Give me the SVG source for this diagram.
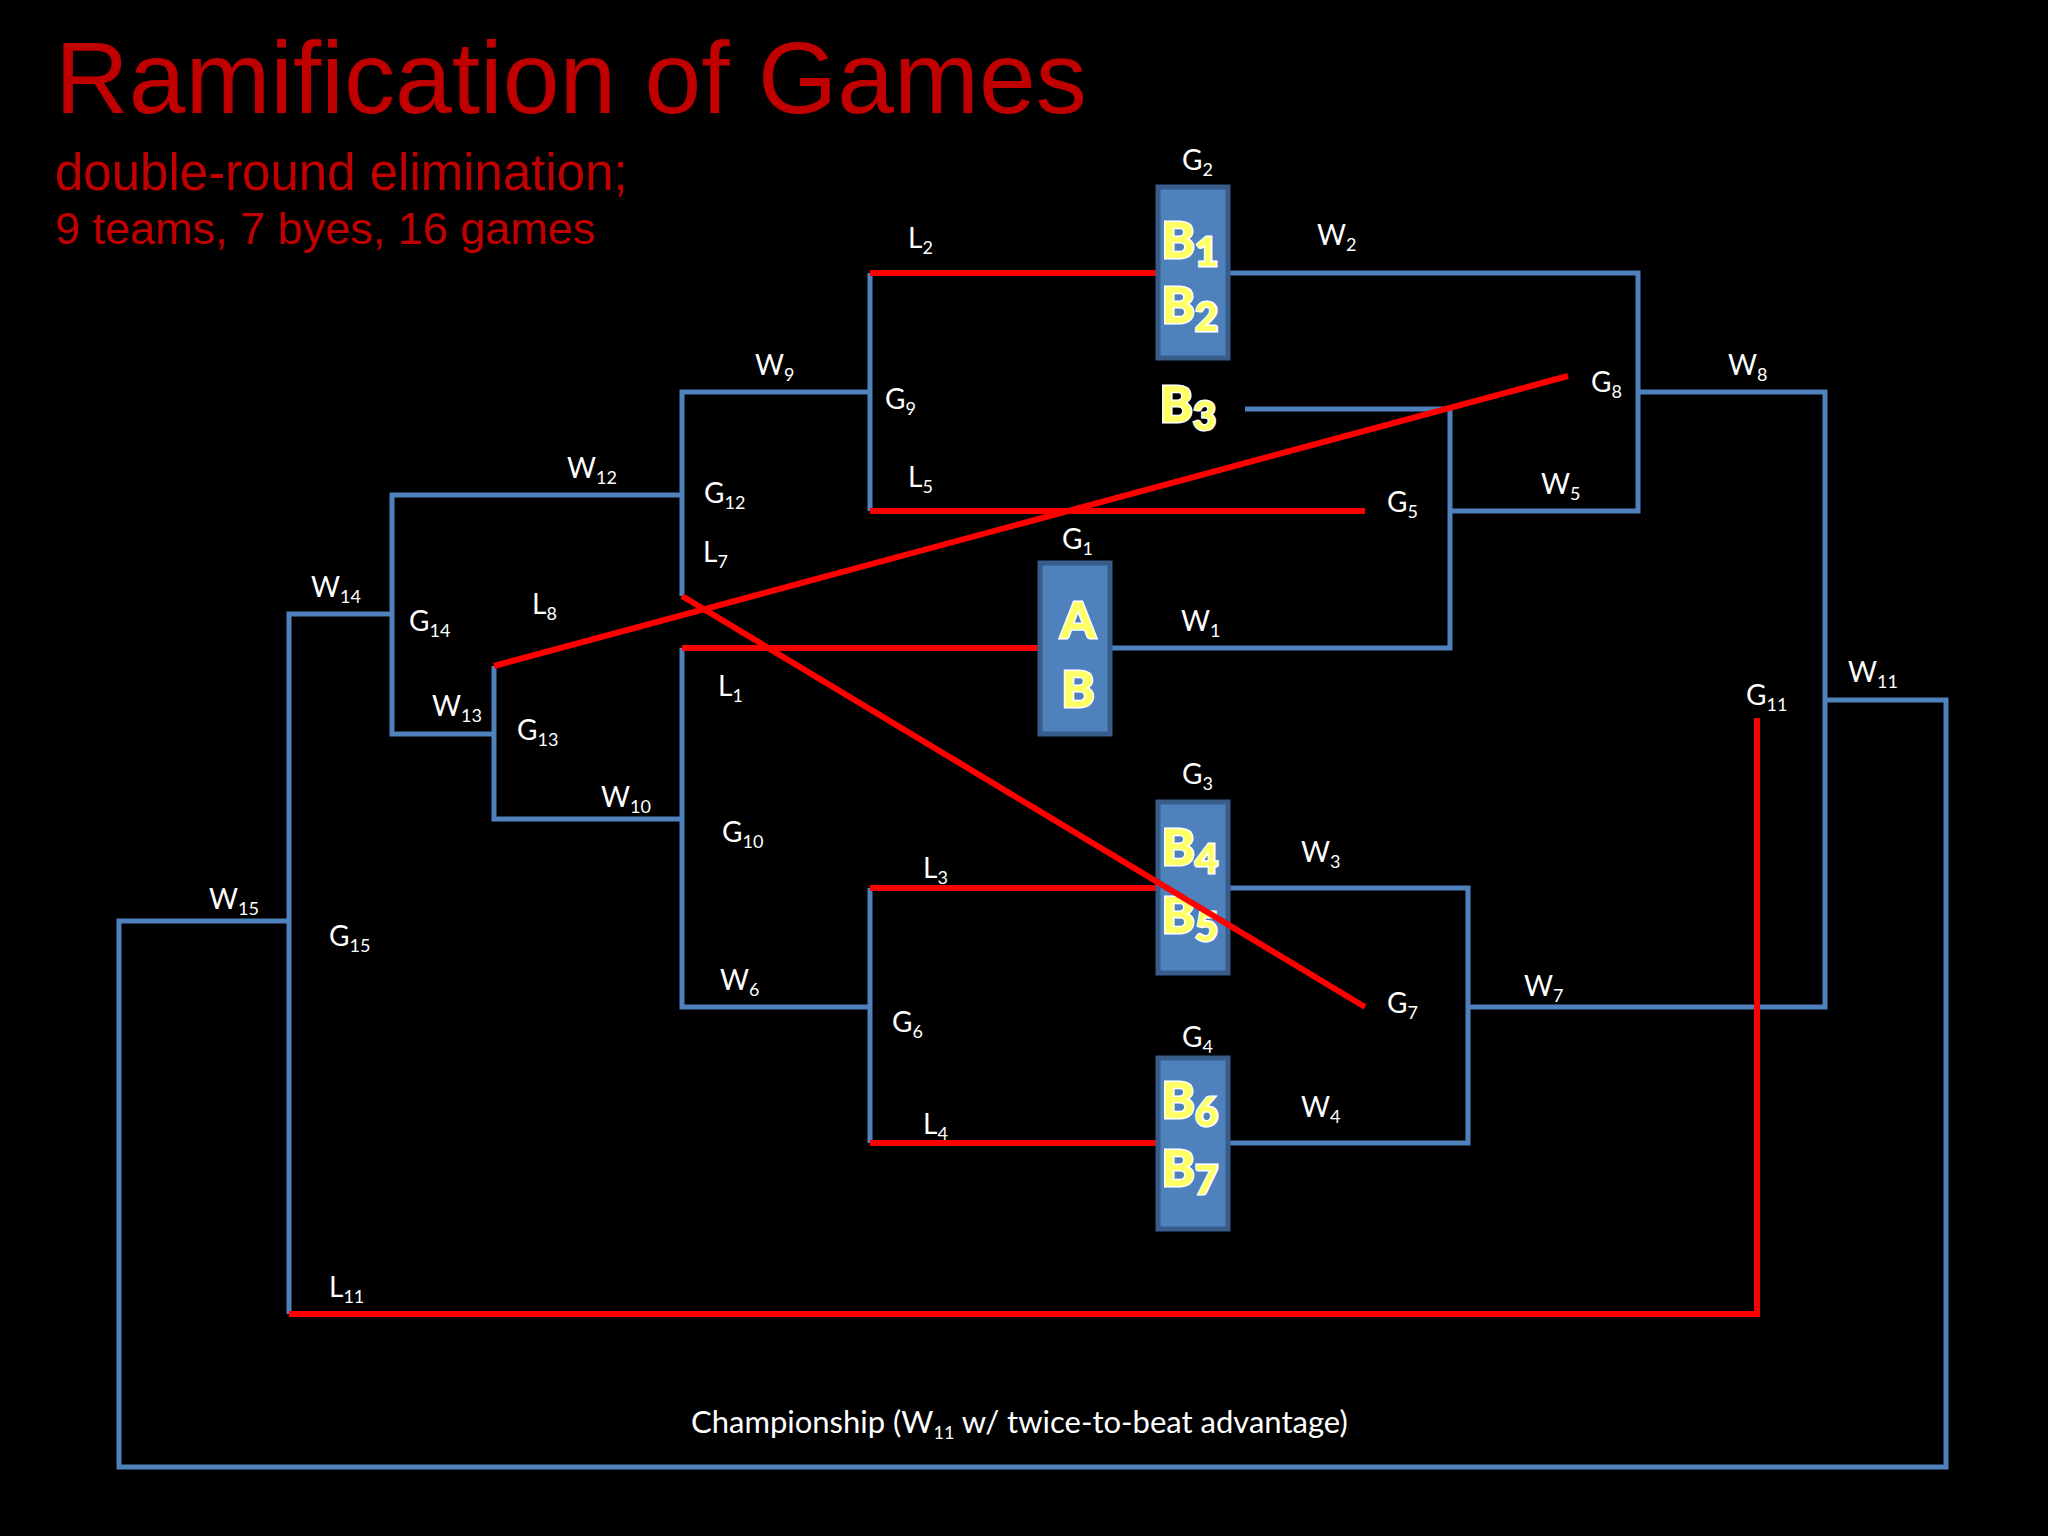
<svg xmlns="http://www.w3.org/2000/svg" width="2048" height="1536" viewBox="0 0 2048 1536">
<style>
.b{stroke:#4f81bd;stroke-width:5;fill:none}
.r{stroke:#ff0000;stroke-width:6;fill:none}
.t{font-family:"Lato","Open Sans",sans-serif;font-size:28px;fill:#fff}
.s{font-size:18px}
.box{fill:#4f81bd;stroke:#385d8a;stroke-width:5}
.k{font-family:"Lato","DejaVu Sans",sans-serif;font-weight:900;font-size:50px;fill:#ffff66;stroke:#fff;stroke-width:3;paint-order:stroke;text-anchor:middle}
.k tspan{font-size:40px}
.h{font-family:"Liberation Sans",Arial,sans-serif;fill:#c00000}
</style>
<rect width="2048" height="1536" fill="#000"/>
<text class="h" x="55" y="113" font-size="102">Ramification of Games</text>
<text class="h" x="55" y="190" font-size="51">double-round elimination;</text>
<text class="h" x="55" y="244" font-size="45">9 teams, 7 byes, 16 games</text>
<g id="connectors">
<polyline class="b" points="1228,273 1638,273 1638,511 1450,511"/>
<polyline class="b" points="1638,392 1825,392 1825,1007 1468,1007"/>
<polyline class="b" points="1825,700 1946,700 1946,1467 119,1467 119,921 289,921"/>
<polyline class="b" points="289,1314 289,614 392,614"/>
<polyline class="b" points="682,495 392,495 392,734 494,734"/>
<polyline class="b" points="682,819 494,819 494,666"/>
<polyline class="b" points="682,596 682,392 870,392"/>
<line class="b" x1="870" y1="273" x2="870" y2="511"/>
<polyline class="b" points="1245,409 1450,409 1450,648 1110,648"/>
<polyline class="b" points="682,648 682,1007 870,1007"/>
<line class="b" x1="870" y1="888" x2="870" y2="1143"/>
<polyline class="b" points="1228,888 1468,888 1468,1143 1228,1143"/>
<line class="r" x1="870" y1="273" x2="1158" y2="273"/>
<line class="r" x1="870" y1="511" x2="1365" y2="511"/>
<line class="r" x1="682" y1="648" x2="1040" y2="648"/>
<line class="r" x1="870" y1="888" x2="1158" y2="888"/>
<line class="r" x1="870" y1="1143" x2="1158" y2="1143"/>
<line class="r" x1="494" y1="666" x2="1568" y2="376"/>
<polyline class="r" points="1757,718 1757,1314 289,1314"/>
</g>
<g id="G2"><rect class="box" x="1158" y="187" width="70" height="171"/><text class="k" x="1190" y="258">B<tspan dy="8">1</tspan></text><text class="k" x="1190" y="323">B<tspan dy="8">2</tspan></text></g>
<g id="B3"><text class="k" x="1188" y="422">B<tspan dy="8">3</tspan></text></g>
<g id="G1"><rect class="box" x="1040" y="563" width="70" height="171"/><text class="k" x="1078" y="638">A</text><text class="k" x="1078" y="707">B</text></g>
<g id="G3"><rect class="box" x="1158" y="802" width="70" height="171"/><text class="k" x="1190" y="865">B<tspan dy="8">4</tspan></text><text class="k" x="1190" y="933">B<tspan dy="8">5</tspan></text></g>
<g id="G4"><rect class="box" x="1158" y="1058" width="70" height="171"/><text class="k" x="1190" y="1118">B<tspan dy="8">6</tspan></text><text class="k" x="1190" y="1186">B<tspan dy="8">7</tspan></text></g>
<g id="connectors-over">
<line class="r" x1="682" y1="596" x2="1365" y2="1007"/>
</g>
<g id="labels" class="t">
<text x="1182" y="170">G<tspan class="s" dy="6">2</tspan></text>
<text x="908" y="248">L<tspan class="s" dy="6">2</tspan></text>
<text x="1317" y="245">W<tspan class="s" dy="6">2</tspan></text>
<text x="755" y="375">W<tspan class="s" dy="6">9</tspan></text>
<text x="885" y="409">G<tspan class="s" dy="6">9</tspan></text>
<text x="1591" y="392">G<tspan class="s" dy="6">8</tspan></text>
<text x="1728" y="375">W<tspan class="s" dy="6">8</tspan></text>
<text x="567" y="478">W<tspan class="s" dy="6">12</tspan></text>
<text x="704" y="503">G<tspan class="s" dy="6">12</tspan></text>
<text x="908" y="487">L<tspan class="s" dy="6">5</tspan></text>
<text x="1541" y="494">W<tspan class="s" dy="6">5</tspan></text>
<text x="1387" y="512">G<tspan class="s" dy="6">5</tspan></text>
<text x="1062" y="549">G<tspan class="s" dy="6">1</tspan></text>
<text x="703" y="562">L<tspan class="s" dy="6">7</tspan></text>
<text x="311" y="597">W<tspan class="s" dy="6">14</tspan></text>
<text x="409" y="631">G<tspan class="s" dy="6">14</tspan></text>
<text x="532" y="614">L<tspan class="s" dy="6">8</tspan></text>
<text x="1181" y="631">W<tspan class="s" dy="6">1</tspan></text>
<text x="1848" y="682">W<tspan class="s" dy="6">11</tspan></text>
<text x="1746" y="705">G<tspan class="s" dy="6">11</tspan></text>
<text x="718" y="696">L<tspan class="s" dy="6">1</tspan></text>
<text x="432" y="716">W<tspan class="s" dy="6">13</tspan></text>
<text x="517" y="740">G<tspan class="s" dy="6">13</tspan></text>
<text x="1182" y="784">G<tspan class="s" dy="6">3</tspan></text>
<text x="601" y="807">W<tspan class="s" dy="6">10</tspan></text>
<text x="722" y="842">G<tspan class="s" dy="6">10</tspan></text>
<text x="1301" y="862">W<tspan class="s" dy="6">3</tspan></text>
<text x="923" y="878">L<tspan class="s" dy="6">3</tspan></text>
<text x="209" y="909">W<tspan class="s" dy="6">15</tspan></text>
<text x="329" y="946">G<tspan class="s" dy="6">15</tspan></text>
<text x="720" y="990">W<tspan class="s" dy="6">6</tspan></text>
<text x="1524" y="996">W<tspan class="s" dy="6">7</tspan></text>
<text x="1387" y="1013">G<tspan class="s" dy="6">7</tspan></text>
<text x="892" y="1032">G<tspan class="s" dy="6">6</tspan></text>
<text x="1182" y="1047">G<tspan class="s" dy="6">4</tspan></text>
<text x="1301" y="1117">W<tspan class="s" dy="6">4</tspan></text>
<text x="923" y="1134">L<tspan class="s" dy="6">4</tspan></text>
<text x="329" y="1297">L<tspan class="s" dy="6">11</tspan></text>
<text x="691" y="1433" font-size="31">Championship (W<tspan class="s" dy="6">11</tspan><tspan dy="-6"> w/ twice-to-beat advantage)</tspan></text>
</g>
</svg>
